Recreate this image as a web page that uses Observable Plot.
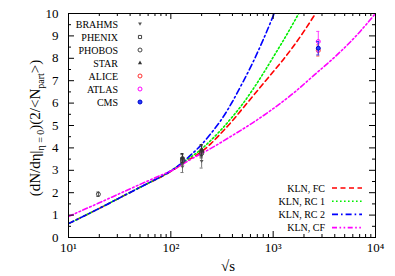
<!DOCTYPE html>
<html>
<head>
<meta charset="utf-8">
<script src="https://cdn.jsdelivr.net/npm/d3@7"></script>
<script src="https://cdn.jsdelivr.net/npm/@observablehq/plot@0.6"></script>
<style>
  html, body { margin: 0; padding: 0; background: #fff; }
  #chart svg { display: block; }
  #chart svg text { font-family: "Liberation Serif", "DejaVu Serif", serif; }
</style>
</head>
<body>
<div id="chart"></div>
<script>
// ---------- model curves (sqrt(s) in GeV, normalized multiplicity) ----------
const fcS   = [10, 20, 31.6, 50, 100, 141, 209, 245, 316, 398, 501, 631, 794, 1000, 1259, 1585, 1995, 2594];
const fcY   = [0.62, 1.3, 1.77, 2.24, 2.95, 3.4, 3.9, 4.18, 4.7, 5.2, 5.75, 6.3, 6.85, 7.4, 7.95, 8.55, 9.2, 10];
const rc1S  = [10, 20, 31.6, 50, 100, 141, 200, 245, 316, 398, 501, 631, 794, 1000, 1259, 1778];
const rc1Y  = [0.62, 1.3, 1.77, 2.24, 2.97, 3.45, 3.95, 4.33, 4.85, 5.38, 5.95, 6.6, 7.3, 8.05, 8.8, 10];
const rc2S  = [10, 20, 31.6, 50, 100, 126, 158, 200, 245, 316, 398, 501, 631, 794, 1023];
const rc2Y  = [0.62, 1.3, 1.77, 2.24, 2.98, 3.3, 3.7, 4.15, 4.63, 5.3, 6.05, 6.9, 7.8, 8.8, 10];
const cfS   = [10, 20, 31.6, 50, 79.4, 100, 158, 251, 398, 631, 1000, 1585, 2512, 3981, 6310, 10000];
const cfY   = [0.94, 1.55, 1.96, 2.37, 2.77, 2.97, 3.5, 4.0, 4.55, 5.12, 5.75, 6.45, 7.25, 8.05, 8.95, 10];

const modelNames  = ["KLN, FC", "KLN, RC 1", "KLN, RC 2", "KLN, CF"];
const modelColors = ["#ff0000", "#00ee00", "#0000ff", "#ff00ff"];
const modelDash   = ["5,3.5", "1.6,2.4", "6,3,1.6,3", "5,2.5,1.6,2.5,1.6,2.5"];

// ---------- experimental data ----------
const brahmsS = [130, 200];   const brahmsY = [3.15, 3.4];  const brahmsE = [0.25, 0.3];
const phenixS = [130, 200];   const phenixY = [3.5, 3.85];  const phenixE = [0.2, 0.25];
const phobosS = [19.6, 130, 200]; const phobosY = [1.93, 3.4, 3.75]; const phobosE = [0.1, 0.15, 0.2];
const starS   = [130, 200];   const starY   = [3.55, 3.9];  const starE   = [0.2, 0.25];
const aliceS  = [2760];       const aliceY  = [8.35];       const aliceE  = [0.25];
const atlasS  = [2760];       const atlasY  = [8.75];       const atlasE  = [0.45];
const cmsS    = [2760];       const cmsY    = [8.45];       const cmsE    = [0.3];

const expNames = ["BRAHMS", "PHENIX", "PHOBOS", "STAR", "ALICE", "ATLAS", "CMS"];

// ---------- ticks ----------
const xMajor = [10, 100, 1000, 10000];
const xMinor = [20,30,40,50,60,70,80,90,200,300,400,500,600,700,800,900,2000,3000,4000,5000,6000,7000,8000,9000];
const yMajor = [0,1,2,3,4,5,6,7,8,9,10];
const yMinor = [0.5,1.5,2.5,3.5,4.5,5.5,6.5,7.5,8.5,9.5];
const supDigits = {1: "¹", 2: "²", 3: "³", 4: "⁴"};

// ---------- build tables ----------
const zipXY = (s, y) => s.map((v, i) => ({x: v, y: y[i]}));
const zipE = (s, y, e) => s.map((v, i) => ({x: v, y: y[i], lo: y[i] - e[i], hi: y[i] + e[i]}));
const curves = [zipXY(fcS, fcY), zipXY(rc1S, rc1Y), zipXY(rc2S, rc2Y), zipXY(cfS, cfY)];

const triDown = {
  draw(ctx, size) {
    const s = Math.sqrt(size) * 0.9;
    ctx.moveTo(0, s * 0.55);
    ctx.lineTo(s * 0.6, -s * 0.45);
    ctx.lineTo(-s * 0.6, -s * 0.45);
    ctx.closePath();
  }
};

const grey = "#444";
const expStyles = [
  {data: zipE(brahmsS, brahmsY, brahmsE), symbol: triDown, fill: "#555", stroke: "none", bar: "#777"},
  {data: zipE(phenixS, phenixY, phenixE), symbol: "square", fill: "none", stroke: grey, bar: "#555"},
  {data: zipE(phobosS, phobosY, phobosE), symbol: "circle", fill: "none", stroke: grey, bar: "#555"},
  {data: zipE(starS, starY, starE), symbol: "triangle", fill: "#333", stroke: "none", bar: "#333"},
  {data: zipE(aliceS, aliceY, aliceE), symbol: "circle", fill: "none", stroke: "#ff3030", bar: "#ff6040"},
  {data: zipE(atlasS, atlasY, atlasE), symbol: "circle", fill: "none", stroke: "#ff00ff", bar: "#ff40ff"},
  {data: zipE(cmsS, cmsY, cmsE), symbol: "circle", fill: "#2040ff", stroke: "#0000cc", bar: "#3030ff"}
];

const W = 307, H = 224; // inner frame size
const marks = [];

// curves
curves.forEach((c, i) => {
  marks.push(Plot.line(c, {x: "x", y: "y", stroke: modelColors[i], strokeWidth: 1.6,
    strokeDasharray: modelDash[i], curve: "monotone-x", clip: true}));
});

// error bars + markers
expStyles.forEach(st => {
  marks.push(Plot.ruleX(st.data, {x: "x", y1: "lo", y2: "hi", stroke: st.bar, strokeWidth: 1}));
  marks.push(Plot.ruleY(st.data, {y: "lo", x1: d => d.x / 1.035, x2: d => d.x * 1.035, stroke: st.bar, strokeWidth: 1}));
  marks.push(Plot.ruleY(st.data, {y: "hi", x1: d => d.x / 1.035, x2: d => d.x * 1.035, stroke: st.bar, strokeWidth: 1}));
  marks.push(Plot.dot(st.data, {x: "x", y: "y", symbol: st.symbol, r: 2, fill: st.fill, stroke: st.stroke, strokeWidth: 1}));
});

// inward ticks
marks.push(
  Plot.ruleX(xMajor, {x: d => d, insetTop: H - 6, stroke: "#000", strokeWidth: 1}),
  Plot.ruleX(xMajor, {x: d => d, insetBottom: H - 6, stroke: "#000", strokeWidth: 1}),
  Plot.ruleX(xMinor, {x: d => d, insetTop: H - 3, stroke: "#000", strokeWidth: 1}),
  Plot.ruleX(xMinor, {x: d => d, insetBottom: H - 3, stroke: "#000", strokeWidth: 1}),
  Plot.ruleY(yMajor, {y: d => d, insetRight: W - 6, stroke: "#000", strokeWidth: 1}),
  Plot.ruleY(yMajor, {y: d => d, insetLeft: W - 6, stroke: "#000", strokeWidth: 1}),
  Plot.ruleY(yMinor, {y: d => d, insetRight: W - 3, stroke: "#000", strokeWidth: 1}),
  Plot.ruleY(yMinor, {y: d => d, insetLeft: W - 3, stroke: "#000", strokeWidth: 1}),
  Plot.axisX(xMajor, {tickSize: 0, tickPadding: 5, tickFormat: d => "10" + supDigits[Math.round(Math.log10(d))], label: null, fontSize: 13}),
  Plot.axisY(yMajor, {tickSize: 0, tickPadding: 10, tickFormat: d => String(d), label: null, fontSize: 13}),
  Plot.frame({stroke: "#000", strokeWidth: 1})
);

const chart = Plot.plot({
  width: 395,
  height: 276,
  marginLeft: 68,
  marginRight: 20,
  marginTop: 13,
  marginBottom: 39,
  style: {fontFamily: "'Liberation Serif', 'DejaVu Serif', serif", fontSize: "13px", color: "#000", background: "#fff"},
  x: {type: "log", domain: [10, 10000]},
  y: {domain: [0, 10]},
  marks
});
document.getElementById("chart").appendChild(chart);

// ---------- annotations: axis titles & legends ----------
const svg = d3.select(chart);

// y-axis title
const yt = svg.append("text")
  .attr("transform", "translate(40,128) rotate(-90)")
  .attr("text-anchor", "middle")
  .attr("font-size", 15).attr("fill", "#000");
yt.append("tspan").text("(dN/dη|");
yt.append("tspan").attr("font-size", 10).attr("dy", 4).text("η = 0");
yt.append("tspan").attr("dy", -4).text(")(2/<N");
yt.append("tspan").attr("font-size", 10).attr("dy", 4).text("part");
yt.append("tspan").attr("dy", -4).text(">)");

// x-axis title
svg.append("text").attr("x", 228).attr("y", 271).attr("text-anchor", "middle")
  .attr("font-size", 15).attr("fill", "#000").text("√s");

// experiment legend (top-left)
const symFor = st => {
  const sz = 4 * Math.PI;
  if (st.symbol === triDown) return d3.symbol(triDown, sz)();
  if (st.symbol === "square") return d3.symbol(d3.symbolSquare2, sz)();
  if (st.symbol === "triangle") return d3.symbol(d3.symbolTriangle2, sz)();
  return d3.symbol(d3.symbolCircle, sz)();
};
expNames.forEach((name, i) => {
  const y = 24 + i * 13;
  svg.append("text").attr("x", 118).attr("y", y).attr("dy", "0.35em").attr("text-anchor", "end")
    .attr("font-size", 10).attr("fill", "#000").text(name);
  const st = expStyles[i];
  svg.append("path").attr("d", symFor(st)).attr("transform", `translate(140,${y})`)
    .attr("fill", st.fill).attr("stroke", st.stroke).attr("stroke-width", 1);
});

// model legend (bottom-right)
modelNames.forEach((name, i) => {
  const y = 188 + i * 13.2;
  svg.append("text").attr("x", 325).attr("y", y).attr("dy", "0.35em").attr("text-anchor", "end")
    .attr("font-size", 10).attr("fill", "#000").text(name);
  svg.append("line").attr("x1", 332).attr("x2", 362).attr("y1", y).attr("y2", y)
    .attr("stroke", modelColors[i]).attr("stroke-width", 1.6).attr("stroke-dasharray", modelDash[i]);
});
</script>
</body>
</html>
